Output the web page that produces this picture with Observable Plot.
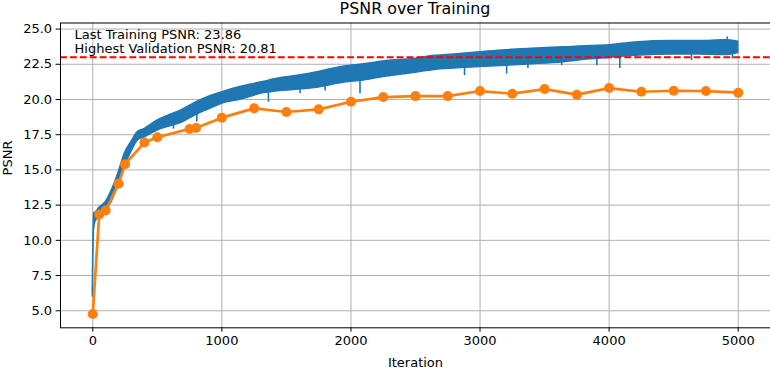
<!DOCTYPE html>
<html>
<head>
<meta charset="utf-8">
<script src="https://cdn.jsdelivr.net/npm/d3@7"></script>
<script src="https://cdn.jsdelivr.net/npm/@observablehq/plot@0.6"></script>
<style>
  html, body { margin: 0; padding: 0; background: white; }
  #wrap { position: relative; width: 770px; height: 370px; }
  #title { position: absolute; left: 60px; width: 710px; top: 0px; height: 17px; line-height: 17px;
           text-align: center; font-family: "DejaVu Sans", sans-serif; font-size: 15.9px; color: black; }
</style>
</head>
<body>
<div id="wrap"><div id="title">PSNR over Training</div></div>
<script>
// Training PSNR (noisy curve) read as a band: lower and upper edge at sampled iterations
const trainIter = [0, 10, 25, 50, 100, 150, 200, 250, 300, 350, 400, 500, 600, 700, 800, 900, 1000, 1150, 1300, 1450, 1600, 1750, 1950, 2100, 2250, 2500, 2650, 2800, 3000, 3200, 3400, 3650, 3850, 4000, 4200, 4500, 4700, 4900, 5000];
const trainLo   = [6.0, 10.8, 11.4, 11.6, 12.0, 12.8, 14.0, 15.3, 16.3, 17.1, 17.3, 17.8, 18.1, 18.4, 18.9, 19.3, 19.7, 20.0, 20.4, 20.6, 20.7, 20.85, 21.2, 21.35, 21.6, 21.9, 22.1, 22.2, 22.3, 22.4, 22.5, 22.65, 22.85, 22.95, 23.1, 23.2, 23.2, 23.15, 23.3];
const trainHi   = [6.5, 11.9, 12.0, 12.3, 12.7, 13.6, 14.8, 16.2, 17.0, 17.7, 17.9, 18.5, 18.9, 19.3, 19.8, 20.2, 20.5, 20.9, 21.2, 21.5, 21.7, 21.95, 22.35, 22.5, 22.7, 22.9, 23.1, 23.2, 23.35, 23.5, 23.6, 23.7, 23.8, 23.85, 24.05, 24.15, 24.15, 24.2, 24.1];
// Isolated spikes of the training curve
const spikeIter = [625, 806, 1361, 1606, 1800, 2070, 2880, 3206, 3371, 3632, 3905, 4083, 4638, 4915, 4955];
const spikeFrom = [17.9, 18.4, 19.8, 20.4, 20.6, 20.4, 21.7, 21.8, 22.2, 22.4, 22.4, 22.2, 22.76, 23.9, 22.88];
const spikeTo   = [18.6, 19.3, 20.6, 21.0, 21.3, 21.6, 22.6, 22.8, 22.9, 23.0, 23.2, 23.3, 23.6, 24.44, 23.6];
// Validation PSNR
const valIter = [0, 50, 100, 200, 250, 400, 500, 750, 800, 1000, 1250, 1500, 1750, 2000, 2250, 2500, 2750, 3000, 3250, 3500, 3750, 4000, 4250, 4500, 4750, 5000];
const valPsnr = [4.77, 11.83, 12.12, 14.02, 15.41, 16.94, 17.32, 17.91, 17.98, 18.71, 19.37, 19.11, 19.30, 19.84, 20.17, 20.24, 20.24, 20.60, 20.41, 20.74, 20.34, 20.81, 20.55, 20.62, 20.60, 20.48];
const targetPsnr = 23.0;
const lastTrain = 23.86;
const bestVal = 20.81;
const xTicks = [0, 1000, 2000, 3000, 4000, 5000];
const yTicks = [5, 7.5, 10, 12.5, 15, 17.5, 20, 22.5, 25];

const train = trainIter.map((it, i) => ({iter: it, lo: trainLo[i], hi: trainHi[i]}));
const spikes = spikeIter.map((it, i) => ({iter: it, a: spikeFrom[i], b: spikeTo[i]}));
const val = valIter.map((it, i) => ({iter: it, psnr: valPsnr[i]}));

const blue = "#1f77b4", orange = "#ff7f0e", grid = "#b0b0b0";

const chart = Plot.plot({
  width: 770, height: 370,
  marginLeft: 60, marginRight: 0, marginTop: 22.5, marginBottom: 42.7,
  style: {fontFamily: "DejaVu Sans", fontSize: "13px", color: "black", background: "transparent", overflow: "visible"},
  x: {domain: [-250, 5250]},
  y: {domain: [3.79, 25.43]},
  marks: [
    Plot.gridX(xTicks, {stroke: grid, strokeOpacity: 1, strokeWidth: 1}),
    Plot.gridY(yTicks, {stroke: grid, strokeOpacity: 1, strokeWidth: 1}),
    Plot.areaY(train, {x: "iter", y1: "lo", y2: "hi", fill: blue, fillOpacity: 1, stroke: blue, strokeWidth: 1.5, curve: "monotone-x"}),
    Plot.ruleX(spikes, {x: "iter", y1: "a", y2: "b", stroke: blue, strokeWidth: 1.6}),
    Plot.lineY(val, {x: "iter", y: "psnr", stroke: orange, strokeWidth: 2.7}),
    Plot.dot(val, {x: "iter", y: "psnr", r: 5, fill: orange, stroke: null}),
    Plot.ruleY([targetPsnr], {stroke: "#ff0000", strokeWidth: 1.9, strokeDasharray: "6.9,3"}),
    Plot.frame({stroke: "black", strokeWidth: 1}),
    Plot.axisX(xTicks, {tickSize: 4.4, tickPadding: 4, label: null, fill: "black", tickFormat: d => String(d)}),
    Plot.axisY(yTicks, {tickSize: 4.4, tickPadding: 4, label: null, tickFormat: d => d.toFixed(1), fill: "black"}),
    Plot.text([`Last Training PSNR: ${lastTrain.toFixed(2)}`], {frameAnchor: "top-left", dx: 14, dy: 11.8, textAnchor: "start", lineAnchor: "middle", fill: "black"}),
    Plot.text([`Highest Validation PSNR: ${bestVal.toFixed(2)}`], {frameAnchor: "top-left", dx: 14, dy: 26.2, textAnchor: "start", lineAnchor: "middle", fill: "black"}),
    Plot.text(["Iteration"], {frameAnchor: "bottom", dy: 35, lineAnchor: "middle", fill: "black"}),
    Plot.text(["PSNR"], {frameAnchor: "left", dx: -52.5, rotate: -90, lineAnchor: "middle", fill: "black"})
  ]
});
document.getElementById("wrap").appendChild(chart);
</script>
</body>
</html>
